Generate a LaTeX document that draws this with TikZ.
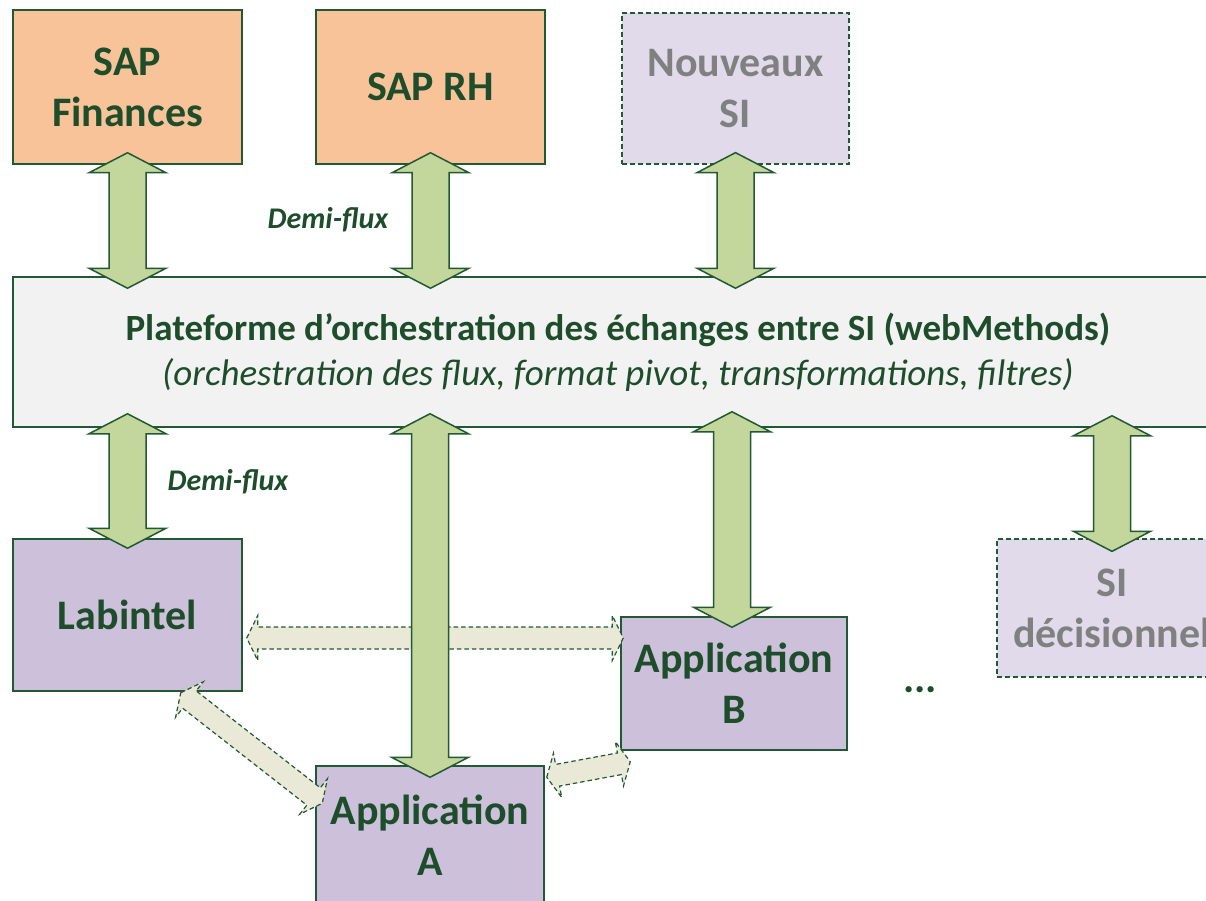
\documentclass[tikz,border=0pt]{standalone}
\usepackage{fontspec}
\setmainfont{Carlito}
\usetikzlibrary{calc}
\definecolor{bord}{HTML}{215A32}
\definecolor{txt}{HTML}{1E4D2B}
\definecolor{orangec}{HTML}{F9C39A}
\definecolor{lav}{HTML}{CCC0DA}
\definecolor{lavlight}{HTML}{E0DAEA}
\definecolor{greenarr}{HTML}{C3D69B}
\definecolor{beige}{HTML}{EAE8D6}
\definecolor{platc}{HTML}{F2F2F2}
\definecolor{grayt}{HTML}{808080}
\tikzset{
  box/.style={draw=bord, line width=1.5pt, minimum width=229pt, minimum height=154pt,
    inner sep=0pt, font=\bfseries\fontsize{42}{51}\selectfont, text=txt, align=center},
  dbox/.style={box, fill=lavlight, dashed, dash pattern=on 5pt off 3pt, line width=1.3pt, text=grayt},
  platbox/.style={draw=bord, line width=1.5pt, fill=platc, minimum width=1210pt, minimum height=150pt,
    inner sep=0pt, align=center, text=txt, font=\fontsize{37}{45}\selectfont},
  bigarrow/.style={draw=bord, line width=1.5pt, fill=greenarr, line join=miter},
  smallarrow/.style={draw=bord, line width=1.2pt, fill=beige, dash pattern=on 4.5pt off 3pt},
  lbl/.style={font=\bfseries\itshape\fontsize{30}{34}\selectfont, text=txt},
}
% #1 style, #2 from, #3 to, #4 shaft half width, #5 head half width, #6 head length
\newcommand\dblarrow[6]{%
  \path[#1] let \p1=(#2), \p2=(#3), \n1={atan2(\y2-\y1,\x2-\x1)}, \n2={veclen(\x2-\x1,\y2-\y1)} in
    [shift={(\p1)}, rotate=\n1]
    (0pt,0pt) -- (#6,#5) -- (#6,#4) -- ({\n2-#6},#4) -- ({\n2-#6},#5) -- ({\n2},0pt)
    -- ({\n2-#6},-#5) -- ({\n2-#6},-#4) -- (#6,-#4) -- (#6,-#5) -- cycle;
}
\begin{document}
\begin{tikzpicture}[x=1pt,y=1pt]
\useasboundingbox (0,0) rectangle (1206,-901);
\clip (0,0) rectangle (1206,-901);
\fill[white] (0,0) rectangle (1206,-901);

% boxes
\node[box, fill=orangec] (fin) at (127.5,-87) {SAP\\Finances};
\node[box, fill=orangec] (rh) at (430.5,-87) {SAP RH};
\node[dbox, minimum width=227pt, minimum height=151pt] (nsi) at (735.5,-88.5) {Nouveaux\\SI};
\node[platbox] (plat) at (618,-352)
  {\bfseries Plateforme d’orchestration des échanges entre SI (webMethods)\\
   \mdseries\itshape (orchestration des flux, format pivot, transformations, filtres)};
\node[box, fill=lav, minimum height=152pt] (lab) at (127.5,-615) {Labintel};
\node[box, fill=lav, minimum width=228pt, minimum height=138pt] (appa) at (430,-835) {Application\\A};
\node[box, fill=lav, minimum width=226pt, minimum height=133pt] (appb) at (734,-683.5) {Application\\B};
\node[dbox, minimum width=230pt, minimum height=138pt] (sid) at (1112,-608) {SI\\décisionnel};

% labels
\node[lbl] (df1) at (328,-220) {Demi-flux};
\node[lbl] (df2) at (228,-482) {Demi-flux};
\node[anchor=base, font=\bfseries\fontsize{42}{50}\selectfont, text=txt] (dots) at (920,-692) {...};

% dashed exchange arrows
\coordinate (d1a) at ([xshift=4pt,yshift=-23pt]lab.east);
\coordinate (d1b) at ([xshift=3pt]d1a -| appb.west);
\dblarrow{smallarrow}{d1a}{d1b}{11pt}{22.5pt}{11pt}
\coordinate (d2a) at ([xshift=-62pt,yshift=-1pt]lab.south east);
\coordinate (d2b) at ([xshift=7pt,yshift=-38pt]appa.north west);
\dblarrow{smallarrow}{d2a}{d2b}{11pt}{22.5pt}{11pt}
\coordinate (d3a) at ([xshift=2pt,yshift=-12pt]appa.north east);
\coordinate (d3b) at ([xshift=10pt,yshift=-11pt]appb.south west);
\dblarrow{smallarrow}{d3a}{d3b}{11pt}{22.5pt}{11pt}

% big green arrows
\dblarrow{bigarrow}{[yshift=12pt]fin.south}{[yshift=-12pt]fin.south |- plat.north}{18.5pt}{38.5pt}{20pt}
\dblarrow{bigarrow}{[yshift=12pt]rh.south}{[yshift=-12pt]rh.south |- plat.north}{18.5pt}{38.5pt}{20pt}
\dblarrow{bigarrow}{[yshift=12pt]nsi.south}{[yshift=-12pt]nsi.south |- plat.north}{18.5pt}{38.5pt}{20pt}
\dblarrow{bigarrow}{[yshift=14pt]lab.north |- plat.south}{[yshift=-10pt]lab.north}{18.5pt}{38.5pt}{20pt}
\dblarrow{bigarrow}{[yshift=14pt]appa.north |- plat.south}{[yshift=-12pt]appa.north}{18.5pt}{38.5pt}{20pt}
\dblarrow{bigarrow}{[yshift=16pt,xshift=-2pt]appb.north |- plat.south}{[yshift=-11pt,xshift=-2pt]appb.north}{18.5pt}{38.5pt}{20pt}
\dblarrow{bigarrow}{[yshift=12pt]sid.north |- plat.south}{[yshift=-13pt]sid.north}{18.5pt}{38.5pt}{20pt}
\end{tikzpicture}
\end{document}
